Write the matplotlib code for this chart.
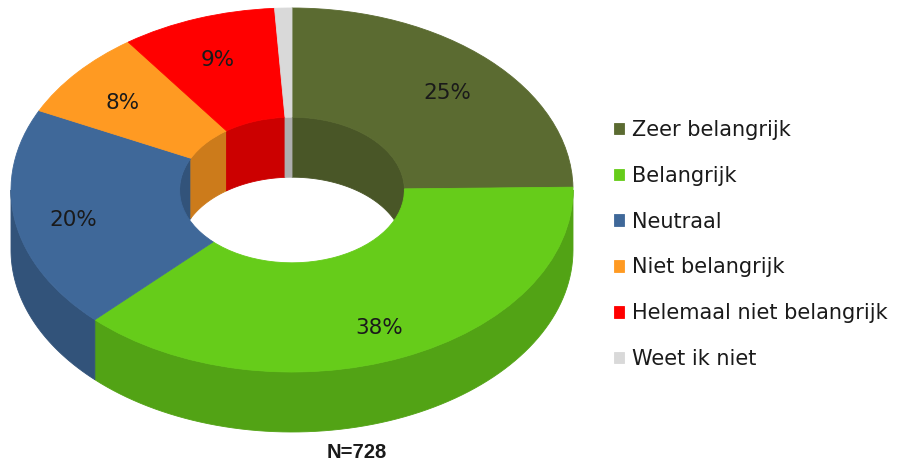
"""
3D-style donut chart: importance ratings (N=728).
"""
import numpy as np
import matplotlib

matplotlib.use("Agg")
import matplotlib.pyplot as plt
from matplotlib.patches import Polygon
from matplotlib.colors import to_rgb

labels = [
    "Zeer belangrijk",
    "Belangrijk",
    "Neutraal",
    "Niet belangrijk",
    "Helemaal niet belangrijk",
    "Weet ik niet",
]
values = [25, 38, 20, 8, 9, 1]
colors = ["#5b6b31", "#66cc1a", "#3f6899", "#ff9a22", "#ff0000", "#d9d9d9"]
n_total = 728

W, H = 907, 463
CX, CY = 292, 190      # centre of the top face (px)
RX, RY = 281, 182      # outer semi-axes (px)
DEPTH = 60 / RY        # wall height in data units
HOLE = 0.4             # inner radius / outer radius
PAD = 0.1
SHADE = 0.8


def darker(c):
    return tuple(v * SHADE for v in to_rgb(c))


fig = plt.figure(figsize=(W / 100, H / 100), dpi=100)
ax = fig.add_axes([
    (CX - (1 + PAD) * RX) / W,
    (H - CY - (1 + DEPTH + PAD) * RY) / H,
    2 * (1 + PAD) * RX / W,
    (2 + DEPTH + 2 * PAD) * RY / H,
])

wedges, texts, autotexts = ax.pie(
    values,
    colors=colors,
    startangle=90,
    counterclock=False,
    wedgeprops=dict(width=1 - HOLE, linewidth=0.6),
    autopct=lambda p: f"{p:.0f}%" if p >= 2 else "",
    pctdistance=0.79,
    textprops=dict(fontsize=15.5, color="#1a1a1a"),
)
for w, c in zip(wedges, colors):
    w.set_edgecolor(c)
    w.set_zorder(2)
for t in autotexts:
    x, y = t.get_position()
    t.set_position((x, y - 0.03))
    t.set_zorder(3)

ax.set_aspect("auto")
ax.set_xlim(-1 - PAD, 1 + PAD)
ax.set_ylim(-1 - DEPTH - PAD, 1 + PAD)
ax.axis("off")


def wall(r, a0, a1, color):
    t = np.radians(np.linspace(a0, a1, 80))
    x = r * np.cos(t)
    y = r * np.sin(t)
    pts = np.column_stack([np.r_[x, x[::-1]], np.r_[y, y[::-1] - DEPTH]])
    ax.add_patch(Polygon(pts, closed=True, fc=color, ec=color, lw=0.6, zorder=1))


# pie angles run from 90 down to -270 (clockwise)
front = [(-180, 0)]
back = [(0, 90), (-270, -180)]
for w, c in zip(wedges, colors):
    for lo, hi in front:
        a0, a1 = max(w.theta1, lo), min(w.theta2, hi)
        if a1 > a0:
            wall(1.0, a0, a1, darker(c))
    for lo, hi in back:
        a0, a1 = max(w.theta1, lo), min(w.theta2, hi)
        if a1 > a0:
            wall(HOLE, a0, a1, darker(c))

fig.legend(
    wedges, labels,
    loc="center left",
    bbox_to_anchor=(595 / W, 1 - 244.5 / H),
    frameon=False,
    fontsize=15,
    handlelength=0.47,
    handleheight=0.47,
    handletextpad=0.42,
    labelspacing=1.24,
    labelcolor="#1a1a1a",
)

fig.text(357 / W, 1 - 453 / H, f"N={n_total}", ha="center", va="center",
         fontsize=14.5, fontweight="bold", color="#1a1a1a",
         family=["Liberation Sans Narrow", "Liberation Sans", "DejaVu Sans"])

fig.savefig("out.png", dpi=100)
